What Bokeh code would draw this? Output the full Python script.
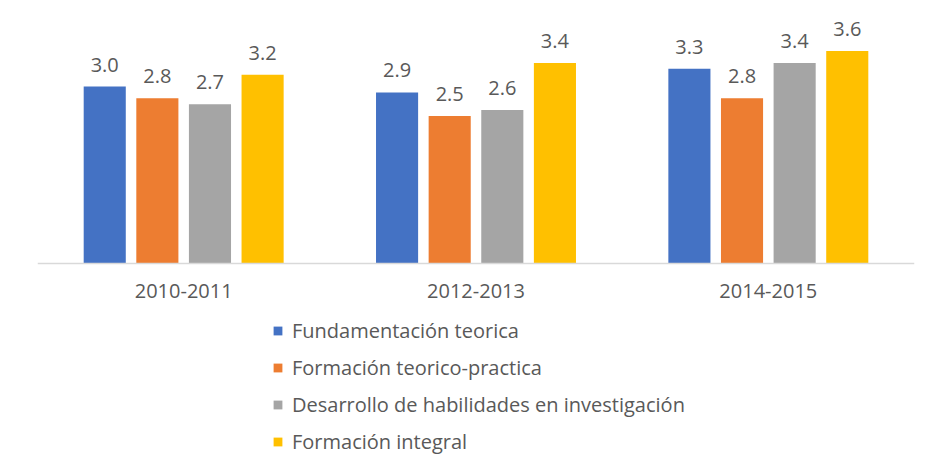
from bokeh.plotting import figure
from bokeh.models import ColumnDataSource, Range1d, Legend, LegendItem, Span
from bokeh.transform import dodge
from bokeh.core.properties import value
from bokeh.embed import file_html
from bokeh.resources import INLINE

categories = ["2010-2011", "2012-2013", "2014-2015"]
fundamentacion = [3.0, 2.9, 3.3]
teorico_practica = [2.8, 2.5, 2.8]
habilidades = [2.7, 2.6, 3.4]
integral = [3.2, 3.4, 3.6]

series_names = ["Fundamentación teorica", "Formación teorico-practica",
                "Desarrollo de habilidades en investigación", "Formación integral"]
series_values = [fundamentacion, teorico_practica, habilidades, integral]
colors = ["#4472C4", "#ED7D31", "#A5A5A5", "#FFC000"]
offsets = [-0.27, -0.09, 0.09, 0.27]

FONT = "Open Sans"
TXT = "#595959"
FS = "20px"

p = figure(x_range=categories, y_range=Range1d(-3.271, 4.458), width=916, height=456,
           output_backend="svg", toolbar_location=None,
           min_border_left=37, min_border_right=2, min_border_top=0, min_border_bottom=0)
p.outline_line_color = None
p.xgrid.visible = False
p.ygrid.visible = False
p.xaxis.visible = False
p.yaxis.visible = False

p.add_layout(Span(location=0, dimension="width", line_color="#d9d9d9", line_width=1.5))

cat_src = ColumnDataSource(dict(cat=categories, y=[0] * len(categories)))
p.text(x="cat", y="y", text="cat", source=cat_src, text_align="center",
       text_baseline="middle", y_offset=27, text_font=value(FONT),
       text_font_size=FS, text_color=TXT)

items = []
for name, vals, col, off in zip(series_names, series_values, colors, offsets):
    src = ColumnDataSource(dict(cat=categories, v=vals, lab=[f"{x:.1f}" for x in vals]))
    r = p.vbar(x=dodge("cat", off, range=p.x_range), top="v", width=0.144, source=src,
               fill_color=col, line_color=None)
    p.text(x=dodge("cat", off, range=p.x_range), y="v", text="lab", source=src,
           text_align="center", text_baseline="bottom", y_offset=-15,
           text_font=value(FONT), text_font_size=FS, text_color=TXT)
    items.append(LegendItem(label=name, renderers=[r]))

legend = Legend(items=items, location=(235, 1), orientation="vertical",
                glyph_width=11, glyph_height=11, label_height=20, spacing=10,
                label_text_font=FONT, label_text_font_size=FS, label_text_color=TXT,
                label_standoff=9, padding=0, margin=0, border_line_color=None,
                background_fill_alpha=0)
p.add_layout(legend)

open("out.html", "w").write(file_html(p, INLINE))
